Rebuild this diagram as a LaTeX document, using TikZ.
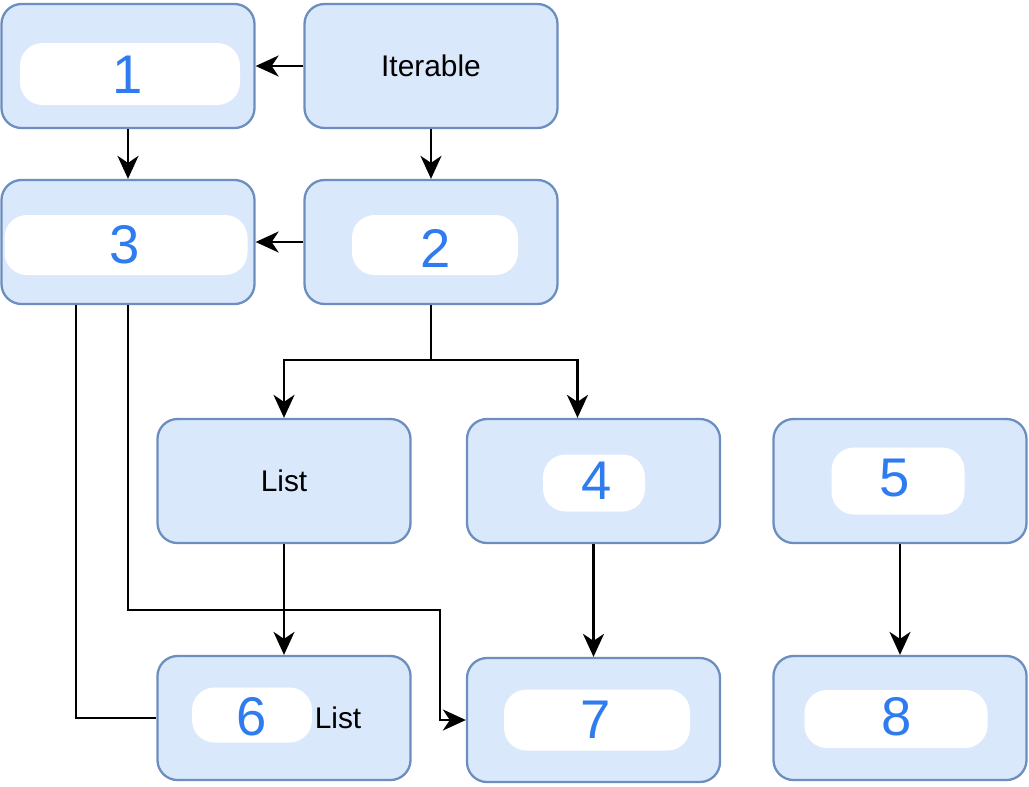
\documentclass[tikz,border=0pt]{standalone}
\usepackage{fontspec}
\setmainfont{Liberation Sans}
\usepackage{xcolor}
\usetikzlibrary{arrows.meta}

\definecolor{boxfill}{HTML}{DAE8FC}
\definecolor{boxline}{HTML}{6C8EBF}
\definecolor{penblue}{HTML}{2F7BF0}

\tikzset{
	box/.style={rectangle, rounded corners=0.4cm, draw=boxline, fill=boxfill, line width=1.3pt,
		minimum width=5.06cm, minimum height=2.48cm, font=\fontsize{17}{20}\selectfont},
	blob/.style={rectangle, fill=white, rounded corners=0.45cm, inner sep=0pt},
	num/.style={text=penblue, inner sep=0pt, font=\fontsize{31}{36}\selectfont},
	link/.style={line width=1.4pt, -{Stealth[length=0.46cm, width=0.42cm, inset=0.14cm]}},
	wire/.style={line width=1.4pt}
}

\begin{document}
\begin{tikzpicture}
	\useasboundingbox (0,0) rectangle (20.58,-15.72);

	% boxes
	\node[box] (box1) at (2.56,-1.32) {};
	\node[box] (iter) at (8.62,-1.32) {Iterable};
	\node[box] (box3) at (2.56,-4.84) {};
	\node[box] (box2) at (8.62,-4.84) {};
	\node[box] (list) at (5.68,-9.62) {List};
	\node[box] (box4) at (11.87,-9.62) {};
	\node[box] (box5) at (18.0,-9.62) {};
	\node[box] (box6) at (5.68,-14.36) {};
	\node[box] (box7) at (11.87,-14.4) {};
	\node[box] (box8) at (18.0,-14.36) {};

	% scribbled-out labels
	\node[blob, minimum width=4.4cm, minimum height=1.24cm] (blob1) at (2.6,-1.48) {};
	\node[blob, minimum width=4.86cm, minimum height=1.2cm] (blob3) at (2.52,-4.9) {};
	\node[blob, minimum width=3.32cm, minimum height=1.2cm] (blob2) at (8.7,-4.9) {};
	\node[blob, minimum width=2.04cm, minimum height=1.14cm] (blob4) at (11.88,-9.66) {};
	\node[blob, minimum width=2.66cm, minimum height=1.34cm] (blob5) at (17.96,-9.62) {};
	\node[blob, minimum width=2.4cm, minimum height=1.1cm] (blob6) at (5.04,-14.3) {};
	\node[blob, minimum width=3.72cm, minimum height=1.22cm] (blob7) at (11.94,-14.4) {};
	\node[blob, minimum width=3.66cm, minimum height=1.16cm] (blob8) at (17.92,-14.38) {};

	\node[num] (n1) at (2.56,-1.5) {1};
	\node[num] (n3) at (2.5,-4.9) {3};
	\node[num] (n2) at (8.72,-4.96) {2};
	\node[num] (n4) at (11.94,-9.62) {4};
	\node[num] (n5) at (17.9,-9.56) {5};
	\node[num] (n6) at (5.04,-14.34) {6};
	\node[num] (n7) at (11.92,-14.4) {7};
	\node[num] (n8) at (17.94,-14.34) {8};
	\node[font=\fontsize{17}{20}\selectfont, inner sep=0pt] (t6) at (6.76,-14.36) {List};

	% connectors
	\coordinate (split) at (8.62,-7.2);
	\coordinate (bend) at (8.8,-12.2);

	\draw[link] (iter.west) -- (box1.east);
	\draw[link] (box1.south) -- (box3.north);
	\draw[link] (iter.south) -- (box2.north);
	\draw[link] (box2.west) -- (box3.east);
	\draw[wire] (box2.south) -- (split);
	\draw[link] (split) -| (list.north);
	\draw[link] (split) -| ([xshift=-0.32cm]box4.north);
	\draw[link] (list.south) -- (box6.north);
	\draw[link] (box4.south) -- (box7.north);
	\draw[link] (box5.south) -- (box8.north);
	\draw[link] (box3.south) |- (bend) |- (box7.west);
	\draw[wire] ([xshift=-1.04cm]box3.south) |- (box6.west);
\end{tikzpicture}
\end{document}
